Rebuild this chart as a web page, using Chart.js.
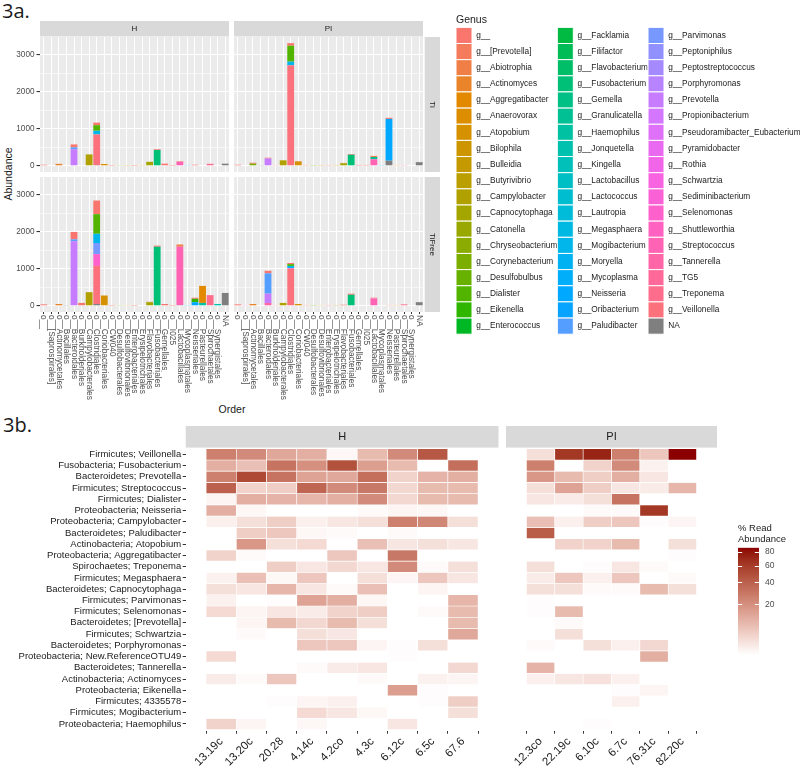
<!DOCTYPE html>
<html>
<head>
<meta charset="utf-8">
<title>Figure 3</title>
<script src="https://cdn.jsdelivr.net/npm/chart.js@4.4.1/dist/chart.umd.min.js"></script>
<style>
  body { margin: 0; width: 800px; height: 771px; position: relative; overflow: hidden; background: #fff;
         font-family: "Liberation Sans", Arial, sans-serif; }
  canvas { position: absolute; }
  .txt { position: absolute; white-space: nowrap; color: #1a1a1a; }
  .fig { font-family: "Open Sans", sans-serif; font-size: 20px; line-height: 20px; }
</style>
</head>
<body>
<div class="txt fig" style="left:2px;top:1px">3a.</div>
<div class="txt fig" style="left:3px;top:415px">3b.</div>
<div class="txt" style="left:232px;top:403px;font-size:10.5px;line-height:12px;transform:translateX(-50%)">Order</div>
<div class="txt" style="left:8px;top:174px;font-size:10.5px;line-height:12px;transform:translate(-50%,-50%) rotate(-90deg)">Abundance</div>

<canvas id="barHTi" width="229" height="151" style="left:0;top:21px"></canvas>
<canvas id="barPITi" width="206" height="151" style="left:234px;top:21px"></canvas>
<canvas id="barHTiFree" width="229" height="226" style="left:0;top:177px"></canvas>
<canvas id="barPITiFree" width="206" height="226" style="left:234px;top:177px"></canvas>
<canvas id="genusLegend" width="344" height="328" style="left:456px;top:14px"></canvas>
<canvas id="heatH" width="499" height="345" style="left:0;top:426px"></canvas>
<canvas id="heatPI" width="211" height="345" style="left:506px;top:426px"></canvas>
<canvas id="heatScale" width="62" height="137" style="left:738px;top:520px"></canvas>

<script>
// ---------- 3a data ----------
const orders = ["o__", "o__[Saprospirales]", "o__Actinomycetales", "o__Bacillales", "o__Bacteroidales",
  "o__Burkholderiales", "o__Campylobacterales", "o__Clostridiales", "o__Coriobacteriales", "o__CW040",
  "o__Desulfobacterales", "o__Desulfovibrionales", "o__Enterobacteriales", "o__Erysipelotrichales", "o__Flavobacteriales",
  "o__Fusobacteriales", "o__Gemellales", "o__I025", "o__Lactobacillales", "o__Mycoplasmatales",
  "o__Neisseriales", "o__Pasteurellales", "o__Spirochaetales", "o__Synergistales", "NA"];

const genera = ["g__", "g__[Prevotella]", "g__Abiotrophia", "g__Actinomyces", "g__Aggregatibacter",
  "g__Anaerovorax", "g__Atopobium", "g__Bilophila", "g__Bulleidia", "g__Butyrivibrio",
  "g__Campylobacter", "g__Capnocytophaga", "g__Catonella", "g__Chryseobacterium", "g__Corynebacterium",
  "g__Desulfobulbus", "g__Dialister", "g__Eikenella", "g__Enterococcus",
  "g__Facklamia", "g__Filifactor", "g__Flavobacterium", "g__Fusobacterium", "g__Gemella",
  "g__Granulicatella", "g__Haemophilus", "g__Jonquetella", "g__Kingella", "g__Lactobacillus",
  "g__Lactococcus", "g__Lautropia", "g__Megasphaera", "g__Mogibacterium", "g__Moryella",
  "g__Mycoplasma", "g__Neisseria", "g__Oribacterium", "g__Paludibacter",
  "g__Parvimonas", "g__Peptoniphilus", "g__Peptostreptococcus", "g__Porphyromonas", "g__Prevotella",
  "g__Propionibacterium", "g__Pseudoramibacter_Eubacterium", "g__Pyramidobacter", "g__Rothia", "g__Schwartzia",
  "g__Sediminibacterium", "g__Selenomonas", "g__Shuttleworthia", "g__Streptococcus", "g__Tannerella",
  "g__TG5", "g__Treponema", "g__Veillonella", "NA"];

const abundanceTicks = [0, 500, 1000, 1500, 2000, 2500, 3000];

// abundance per genus, one value per order (columns follow `orders`)
const hTi = {
  "NA":                 [0,0,0,15,0, 0,0,20,0,0, 0,0,0,0,0, 0,0,0,0,0, 0,0,0,0,60],
  "g__Veillonella":     [0,0,0,0,0, 0,0,830,0,0, 0,0,0,0,0, 0,0,0,0,0, 0,0,0,0,0],
  "g__Treponema":       [0,0,0,0,0, 0,0,0,0,0, 0,0,0,0,0, 0,0,0,0,0, 0,0,55,0,0],
  "g__Streptococcus":   [0,0,0,0,0, 0,0,0,0,0, 0,0,0,0,0, 0,0,0,110,0, 0,0,0,0,0],
  "g__Sediminibacterium":[0,15,0,0,0, 0,0,0,0,0, 0,0,0,0,0, 0,0,0,0,0, 0,0,0,0,0],
  "g__Prevotella":      [0,0,0,0,450, 0,0,0,0,0, 0,0,0,0,0, 0,0,0,0,0, 0,0,0,0,0],
  "g__Paludibacter":    [0,0,0,0,50, 0,0,0,0,0, 0,0,0,0,0, 0,0,0,0,0, 0,0,0,0,0],
  "g__Mycoplasma":      [0,0,0,0,0, 0,0,0,0,0, 0,0,0,0,0, 0,0,0,0,10, 0,0,0,0,0],
  "g__Mogibacterium":   [0,0,0,0,0, 0,0,100,0,0, 0,0,0,0,0, 0,0,0,0,0, 0,0,0,0,0],
  "g__Jonquetella":     [0,0,0,0,0, 0,0,0,0,0, 0,0,0,0,0, 0,0,0,0,0, 0,0,0,15,0],
  "g__Fusobacterium":   [0,0,0,0,0, 0,0,0,0,0, 0,0,0,0,0, 430,0,0,0,0, 0,0,0,0,0],
  "g__Dialister":       [0,0,0,0,0, 0,0,150,0,0, 0,0,0,0,0, 0,0,0,0,0, 0,0,0,0,0],
  "g__Desulfobulbus":   [0,0,0,0,0, 0,0,0,0,0, 10,0,0,0,0, 0,0,0,0,0, 0,0,0,0,0],
  "g__Capnocytophaga":  [0,0,0,0,0, 0,0,0,0,0, 0,0,0,0,110, 0,0,0,0,0, 0,0,0,0,0],
  "g__Campylobacter":   [0,0,0,0,0, 0,310,0,0,0, 0,0,0,0,0, 0,0,0,0,0, 0,0,0,0,0],
  "g__Bulleidia":       [0,0,0,0,0, 0,0,0,0,0, 0,0,0,10,0, 0,0,0,0,0, 0,0,0,0,0],
  "g__Bilophila":       [0,0,0,0,0, 0,0,0,0,0, 0,8,0,0,0, 0,0,0,0,0, 0,0,0,0,0],
  "g__Atopobium":       [0,0,0,0,0, 0,0,0,50,0, 0,0,0,0,0, 0,0,0,0,0, 0,0,0,0,0],
  "g__Aggregatibacter": [0,0,0,0,0, 0,0,0,0,0, 0,0,0,0,0, 0,0,0,0,0, 0,15,0,0,0],
  "g__Actinomyces":     [0,0,55,0,0, 0,0,0,0,0, 0,0,0,0,0, 0,0,0,0,0, 0,0,0,0,0],
  "g__":                [30,0,0,0,80, 15,0,70,0,5, 0,0,5,0,0, 20,60,5,15,0, 30,0,0,0,0]
};

const piTi = {
  "NA":                 [0,0,0,20,0, 0,0,0,0,0, 0,0,0,0,0, 0,0,0,0,0, 140,0,0,0,100],
  "g__Veillonella":     [0,0,0,0,0, 0,0,2720,0,0, 0,0,0,0,0, 0,0,0,0,0, 0,0,0,0,0],
  "g__Treponema":       [0,0,0,0,0, 0,0,0,0,0, 0,0,0,0,0, 0,0,0,0,0, 0,0,20,0,0],
  "g__Streptococcus":   [0,0,0,0,0, 0,0,0,0,0, 0,0,0,0,0, 0,0,0,180,0, 0,0,0,0,0],
  "g__Sediminibacterium":[0,15,0,0,0, 0,0,0,0,0, 0,0,0,0,0, 0,0,0,0,0, 0,0,0,0,0],
  "g__Prevotella":      [0,0,0,0,200, 0,0,0,0,0, 0,0,0,0,0, 0,0,0,0,0, 0,0,0,0,0],
  "g__Neisseria":       [0,0,0,0,0, 0,0,0,0,0, 0,0,0,0,0, 0,0,0,0,0, 1130,0,0,0,0],
  "g__Mycoplasma":      [0,0,0,0,0, 0,0,0,0,0, 0,0,0,0,0, 0,0,0,0,10, 0,0,0,0,0],
  "g__Mogibacterium":   [0,0,0,0,0, 0,0,100,0,0, 0,0,0,0,0, 0,0,0,0,0, 0,0,0,0,0],
  "g__Jonquetella":     [0,0,0,0,0, 0,0,0,0,0, 0,0,0,0,0, 0,0,0,0,0, 0,0,0,15,0],
  "g__Granulicatella":  [0,0,0,0,0, 0,0,0,0,0, 0,0,0,0,0, 0,0,0,60,0, 0,0,0,0,0],
  "g__Fusobacterium":   [0,0,0,0,0, 0,0,0,0,0, 0,0,0,0,0, 300,0,0,0,0, 0,0,0,0,0],
  "g__Dialister":       [0,0,0,0,0, 0,0,430,0,0, 0,0,0,0,0, 0,0,0,0,0, 0,0,0,0,0],
  "g__Desulfobulbus":   [0,0,0,0,0, 0,0,0,0,0, 8,0,0,0,0, 0,0,0,0,0, 0,0,0,0,0],
  "g__Corynebacterium": [0,0,60,0,0, 0,0,0,0,0, 0,0,0,0,0, 0,0,0,0,0, 0,0,0,0,0],
  "g__Capnocytophaga":  [0,0,0,0,0, 0,0,0,0,0, 0,0,0,0,70, 0,0,0,0,0, 0,0,0,0,0],
  "g__Campylobacter":   [0,0,0,0,0, 0,150,0,0,0, 0,0,0,0,0, 0,0,0,0,0, 0,0,0,0,0],
  "g__Bulleidia":       [0,0,0,0,0, 0,0,0,0,0, 0,0,0,8,0, 0,0,0,0,0, 0,0,0,0,0],
  "g__Bilophila":       [0,0,0,0,0, 0,0,0,0,0, 0,8,0,0,0, 0,0,0,0,0, 0,0,0,0,0],
  "g__Atopobium":       [0,0,0,0,0, 0,0,0,120,0, 0,0,0,0,0, 0,0,0,0,0, 0,0,0,0,0],
  "g__Aggregatibacter": [0,0,0,0,0, 0,0,0,0,0, 0,0,0,0,0, 0,0,0,0,0, 0,20,0,0,0],
  "g__Abiotrophia":     [0,0,0,0,0, 0,0,0,0,0, 0,0,0,0,0, 0,0,0,30,0, 0,0,0,0,0],
  "g__":                [30,0,25,0,20, 10,0,70,10,8, 0,0,8,0,10, 20,25,25,0,0, 30,0,0,0,0]
};

const hTiFree = {
  "NA":                 [0,0,0,20,0, 0,0,50,0,0, 0,0,0,0,0, 0,0,0,20,0, 0,0,0,0,350],
  "g__Veillonella":     [0,0,0,0,0, 0,0,1030,0,0, 0,0,0,0,0, 0,0,0,0,0, 0,0,0,0,0],
  "g__Treponema":       [0,0,0,0,0, 0,0,0,0,0, 0,0,0,0,0, 0,0,0,0,0, 0,0,290,0,0],
  "g__Streptococcus":   [0,0,0,0,0, 0,0,0,0,0, 0,0,0,0,0, 0,0,0,1580,0, 0,0,0,0,0],
  "g__Selenomonas":     [0,0,0,0,0, 0,0,320,0,0, 0,0,0,0,0, 0,0,0,0,0, 0,0,0,0,0],
  "g__Sediminibacterium":[0,15,0,0,0, 0,0,0,0,0, 0,0,0,0,0, 0,0,0,0,0, 0,0,0,0,0],
  "g__Prevotella":      [0,0,0,0,1750, 0,0,0,0,0, 0,0,0,0,0, 0,0,0,0,0, 0,0,0,0,0],
  "g__Parvimonas":      [0,0,0,0,0, 0,0,300,0,0, 0,0,0,0,0, 0,0,0,0,0, 0,0,0,0,0],
  "g__Paludibacter":    [0,0,0,0,50, 0,0,0,0,0, 0,0,0,0,0, 0,0,0,0,0, 0,0,0,0,0],
  "g__Neisseria":       [0,0,0,0,0, 0,0,0,0,0, 0,0,0,0,0, 0,0,0,0,0, 100,0,0,0,0],
  "g__Mycoplasma":      [0,0,0,0,0, 0,0,0,0,0, 0,0,0,0,0, 0,0,0,0,10, 0,0,0,0,0],
  "g__Mogibacterium":   [0,0,0,0,0, 0,0,250,0,0, 0,0,0,0,0, 0,0,0,0,0, 0,0,0,0,0],
  "g__Jonquetella":     [0,0,0,0,0, 0,0,0,0,0, 0,0,0,0,0, 0,0,0,0,0, 0,0,0,50,0],
  "g__Haemophilus":     [0,0,0,0,0, 0,0,0,0,0, 0,0,0,0,0, 0,0,0,0,0, 0,80,0,0,0],
  "g__Fusobacterium":   [0,0,0,0,0, 0,0,0,0,0, 0,0,0,0,0, 1600,0,0,0,0, 0,0,0,0,0],
  "g__Eikenella":       [0,0,0,0,0, 0,0,0,0,0, 0,0,0,0,0, 0,0,0,0,0, 90,0,0,0,0],
  "g__Dialister":       [0,0,0,0,0, 0,0,530,0,0, 0,0,0,0,0, 0,0,0,0,0, 0,0,0,0,0],
  "g__Desulfobulbus":   [0,0,0,0,0, 0,0,0,0,0, 10,0,0,0,0, 0,0,0,0,0, 0,0,0,0,0],
  "g__Capnocytophaga":  [0,0,0,0,0, 0,0,0,0,0, 0,0,0,0,100, 0,0,0,0,0, 0,0,0,0,0],
  "g__Campylobacter":   [0,0,0,0,0, 0,370,0,0,0, 0,0,0,0,0, 0,0,0,0,0, 0,0,0,0,0],
  "g__Bulleidia":       [0,0,0,0,0, 0,0,0,0,0, 0,0,0,15,0, 0,0,0,0,0, 0,0,0,0,0],
  "g__Bilophila":       [0,0,0,0,0, 0,0,0,0,0, 0,10,0,0,0, 0,0,0,0,0, 0,0,0,0,0],
  "g__Atopobium":       [0,0,0,0,0, 0,0,0,280,0, 0,0,0,0,0, 0,0,0,0,0, 0,0,0,0,0],
  "g__Aggregatibacter": [0,0,0,0,0, 0,0,0,0,0, 0,0,0,0,0, 0,0,0,0,0, 0,460,0,0,0],
  "g__Actinomyces":     [0,0,50,0,0, 0,0,0,0,0, 0,0,0,0,0, 0,0,0,0,0, 0,0,0,0,0],
  "g__Abiotrophia":     [0,0,0,0,0, 0,0,0,0,0, 0,0,0,0,0, 0,0,0,60,0, 0,0,0,0,0],
  "g__":                [40,0,0,0,200, 80,0,370,0,5, 0,0,5,0,10, 30,50,5,0,0, 30,0,0,0,0]
};

const piTiFree = {
  "NA":                 [0,0,0,15,0, 0,0,0,0,0, 0,0,0,0,0, 0,0,0,0,0, 0,0,0,0,100],
  "g__Veillonella":     [0,0,0,0,0, 0,0,1000,0,0, 0,0,0,0,0, 0,0,0,0,0, 0,0,0,0,0],
  "g__Treponema":       [0,0,0,0,0, 0,0,0,0,0, 0,0,0,0,0, 0,0,0,0,0, 0,0,40,0,0],
  "g__Tannerella":      [0,0,0,0,80, 0,0,0,0,0, 0,0,0,0,0, 0,0,0,0,0, 0,0,0,0,0],
  "g__Streptococcus":   [0,0,0,0,0, 0,0,0,0,0, 0,0,0,0,0, 0,0,0,200,0, 0,0,0,0,0],
  "g__Selenomonas":     [0,0,0,0,0, 0,0,20,0,0, 0,0,0,0,0, 0,0,0,0,0, 0,0,0,0,0],
  "g__Sediminibacterium":[0,10,0,0,0, 0,0,0,0,0, 0,0,0,0,0, 0,0,0,0,0, 0,0,0,0,0],
  "g__Prevotella":      [0,0,0,0,250, 0,0,0,0,0, 0,0,0,0,0, 0,0,0,0,0, 0,0,0,0,0],
  "g__Paludibacter":    [0,0,0,0,550, 0,0,0,0,0, 0,0,0,0,0, 0,0,0,0,0, 0,0,0,0,0],
  "g__Mycoplasma":      [0,0,0,0,0, 0,0,0,0,0, 0,0,0,0,0, 0,0,0,0,15, 0,0,0,0,0],
  "g__Mogibacterium":   [0,0,0,0,0, 0,0,60,0,0, 0,0,0,0,0, 0,0,0,0,0, 0,0,0,0,0],
  "g__Jonquetella":     [0,0,0,0,0, 0,0,0,0,0, 0,0,0,0,0, 0,0,0,0,0, 0,0,0,15,0],
  "g__Fusobacterium":   [0,0,0,0,0, 0,0,0,0,0, 0,0,0,0,0, 300,0,0,0,0, 0,0,0,0,0],
  "g__Dialister":       [0,0,0,0,0, 0,0,50,0,0, 0,0,0,0,0, 0,0,0,0,0, 0,0,0,0,0],
  "g__Desulfobulbus":   [0,0,0,0,0, 0,0,0,0,0, 8,0,0,0,0, 0,0,0,0,0, 0,0,0,0,0],
  "g__Campylobacter":   [0,0,0,0,0, 0,80,0,0,0, 0,0,0,0,0, 0,0,0,0,0, 0,0,0,0,0],
  "g__Bulleidia":       [0,0,0,0,0, 0,0,0,0,0, 0,0,0,8,0, 0,0,0,0,0, 0,0,0,0,0],
  "g__Bilophila":       [0,0,0,0,0, 0,0,0,0,0, 0,10,0,0,0, 0,0,0,0,0, 0,0,0,0,0],
  "g__Atopobium":       [0,0,0,0,0, 0,0,0,50,0, 0,0,0,0,0, 0,0,0,0,0, 0,0,0,0,0],
  "g__Aggregatibacter": [0,0,0,0,0, 0,0,0,0,0, 0,0,0,0,0, 0,0,0,0,0, 0,10,0,0,0],
  "g__Actinomyces":     [0,0,50,0,0, 0,0,0,0,0, 0,0,0,0,0, 0,0,0,0,0, 0,0,0,0,0],
  "g__":                [40,0,0,0,70, 10,0,30,0,8, 0,0,8,0,30, 30,15,15,20,0, 10,0,0,0,0]
};

// ---------- 3b data ----------
const samplesH = ["13.19c", "13.20c", "20.28", "4.14c", "4.2co", "4.3c", "6.12c", "6.5c", "67.6"];
const samplesPI = ["12.3co", "22.19c", "6.10c", "6.7c", "76.31c", "82.20c"];
const taxa = ["Firmicutes; Veillonella", "Fusobacteria; Fusobacterium", "Bacteroidetes; Prevotella",
  "Firmicutes; Streptococcus", "Firmicutes; Dialister", "Proteobacteria; Neisseria",
  "Proteobacteria; Campylobacter", "Bacteroidetes; Paludibacter", "Actinobacteria; Atopobium",
  "Proteobacteria; Aggregatibacter", "Spirochaetes; Treponema", "Firmicutes; Megasphaera",
  "Bacteroidetes; Capnocytophaga", "Firmicutes; Parvimonas", "Firmicutes; Selenomonas",
  "Bacteroidetes; [Prevotella]", "Firmicutes; Schwartzia", "Bacteroidetes; Porphyromonas",
  "Proteobacteria; New.ReferenceOTU49", "Bacteroidetes; Tannerella", "Actinobacteria; Actinomyces",
  "Proteobacteria; Eikenella", "Firmicutes; 4335578", "Firmicutes; Mogibacterium",
  "Proteobacteria; Haemophilus"];
// % read abundance: H samples (9) then PI samples (6)
const readPct = [
  [26, 21.5, 12.4, 10.5, 0.22, 7.75, 21.5, 44.6, 0,      1.94, 62.2, 72.9, 26, 5.38, 86],
  [10.5, 6.75, 31, 19.8, 48.4, 15.2, 7.75, 0, 33.1,     26, 0, 3.44, 21.5, 0.42, 0],
  [26, 52.4, 31, 13.8, 12.4, 33.1, 3.44, 9.38, 10.5,    17.4, 7.75, 4.17, 10.5, 1.24, 0],
  [39.8, 3.44, 4.17, 37.5, 21.5, 29, 2.79, 7.75, 7.75,  1.94, 13.8, 4.17, 1.24, 0.86, 8.82],
  [0.31, 10.5, 9.38, 8.82, 10.5, 21.5, 2.79, 7.75, 7.75, 1.24, 0.86, 1.94, 31, 0, 0],
  [10.5, 0.22, 0, 0, 0, 0.14, 0.31, 0.22, 0,            0, 0, 0.14, 0.14, 62.2, 0],
  [0.55, 1.94, 4.17, 0.55, 1.24, 1.94, 26, 23.3, 1.94,  6.75, 0.55, 4.17, 5.38, 0.08, 0.31],
  [0, 4.17, 5.38, 0.22, 0.14, 0, 0.14, 0, 0,            42.2, 0, 0, 0, 0, 0],
  [0, 17.4, 1.94, 2.49, 0, 6.75, 1.24, 1.94, 1.24,      0, 3.44, 3.44, 7.75, 0, 1.94],
  [3.44, 0.14, 0, 0, 5.38, 0, 29, 0, 0,                 0, 0, 0, 0, 0, 0.08],
  [0, 0, 4.17, 1.24, 2.79, 1.24, 21.5, 0.14, 1.94,      1.94, 0, 0.08, 1.24, 0.14, 0],
  [0.42, 6.75, 0.22, 5.38, 0, 1.94, 0.31, 5.38, 1.24,   0.86, 5.38, 0.55, 5.38, 0, 0.14],
  [1.94, 1.24, 8.82, 1.24, 0.14, 6.75, 0, 0.31, 0,      1.94, 1.94, 0.14, 0.14, 7.75, 1.94],
  [0.42, 0, 0.08, 13.8, 10.5, 0.22, 0, 0, 8.82,         0.08, 0, 0, 0, 0, 0],
  [2.49, 0.31, 1.24, 0.86, 3.44, 4.17, 0, 0.14, 7.75,   0.08, 7.75, 0, 0, 0, 0],
  [0, 0.31, 7.75, 2.79, 7.75, 1.94, 0, 0, 7.75,         0, 0.14, 0, 0, 0, 0],
  [0, 0.14, 0, 1.94, 1.24, 0, 0, 0, 12.4,               0, 1.94, 0, 0, 0, 0],
  [0, 0, 0, 5.38, 5.38, 0.31, 0.08, 1.94, 0,            0.14, 0, 1.94, 0.55, 2.79, 0],
  [2.49, 0, 0, 0, 0, 0, 0.08, 0, 0,                     0, 0, 0, 0, 10.5, 0],
  [0, 0, 0, 0.14, 0.86, 1.24, 0, 0, 2.79,               9.38, 0, 0, 0, 0, 0],
  [0.86, 0.14, 5.38, 0, 0, 0.14, 0, 0.42, 0.31,         0.55, 1.24, 1.69, 0.55, 0, 0],
  [0, 0, 0, 0, 0, 0, 15.2, 0.08, 0,                     0, 0, 0, 0.08, 0.31, 0],
  [0, 0, 0.08, 0.31, 0.55, 0, 0, 0.08, 4.17,            0, 0, 0, 0.55, 0, 0],
  [0, 0, 0, 2.49, 1.24, 0.22, 0, 0, 1.94,               0, 0, 0, 0, 0, 0],
  [3.44, 0.31, 0, 0.22, 0, 0, 1.24, 0, 0,               0, 0, 0.08, 0, 0.03, 0]
];
const pctTicks = [20, 40, 60, 80];

// ---------- colours ----------
const F = '"Liberation Sans", Arial, Helvetica, sans-serif';
Chart.defaults.font.family = F;

function toHex(r, g, b) {
  return '#' + [r, g, b].map(c => Math.round(Math.min(255, Math.max(0, c * 255))).toString(16).padStart(2, '0')).join('');
}
// polar LUV, as R's hcl()
function hcl(h, c, l) {
  const WX = 95.047, WY = 100, WZ = 108.883;
  const hr = h * Math.PI / 180, U = c * Math.cos(hr), V = c * Math.sin(hr);
  const Y = WY * (l > 7.999592 ? Math.pow((l + 16) / 116, 3) : l / 903.3);
  const t = WX + WY + WZ, x = WX / t, y = WY / t;
  const uN = 2 * x / (6 * y - x + 1.5), vN = 4.5 * y / (6 * y - x + 1.5);
  const u = U / (13 * l) + uN, v = V / (13 * l) + vN;
  const X = 9 * Y * u / (4 * v), Z = -X / 3 - 5 * Y + 3 * Y / v;
  const gam = c => c > 0.00304 ? 1.055 * Math.pow(c, 1 / 2.4) - 0.055 : 12.92 * c;
  return toHex(gam((3.240479 * X - 1.537150 * Y - 0.498535 * Z) / WY),
               gam((-0.969256 * X + 1.875992 * Y + 0.041556 * Z) / WY),
               gam((0.055648 * X - 0.204043 * Y + 1.057311 * Z) / WY));
}
const genusColor = genera.map((g, i) => i < genera.length - 1 ? hcl(15 + 360 * i / (genera.length - 1), 100, 65) : '#7f7f7f');

function rgb2lab(hex) {
  const lin = [1, 3, 5].map(i => { const c = parseInt(hex.substr(i, 2), 16) / 255; return c <= 0.04045 ? c / 12.92 : Math.pow((c + 0.055) / 1.055, 2.4); });
  const [r, g, b] = lin;
  const X = (0.4124564 * r + 0.3575761 * g + 0.1804375 * b) / 0.95047;
  const Y = 0.2126729 * r + 0.7151522 * g + 0.0721750 * b;
  const Z = (0.0193339 * r + 0.1191920 * g + 0.9503041 * b) / 1.08883;
  const f = t => t > 0.008856 ? Math.cbrt(t) : 7.787 * t + 16 / 116;
  return [116 * f(Y) - 16, 500 * (f(X) - f(Y)), 200 * (f(Y) - f(Z))];
}
function lab2hex([L, a, b]) {
  const fy = (L + 16) / 116, fx = fy + a / 500, fz = fy - b / 200;
  const inv = t => t * t * t > 0.008856 ? t * t * t : (t - 16 / 116) / 7.787;
  const X = inv(fx) * 0.95047, Y = inv(fy), Z = inv(fz) * 1.08883;
  const gam = c => c <= 0.0031308 ? 12.92 * c : 1.055 * Math.pow(c, 1 / 2.4) - 0.055;
  return toHex(gam(3.2404542 * X - 1.5371385 * Y - 0.4985314 * Z),
               gam(-0.9692660 * X + 1.8760108 * Y + 0.0415560 * Z),
               gam(0.0556434 * X - 0.2040259 * Y + 1.0572252 * Z));
}
const labLow = rgb2lab('#ffffff'), labHigh = rgb2lab('#8b0000');
const mixLab = t => lab2hex(labLow.map((v, i) => v + (labHigh[i] - v) * t));
const allPct = readPct.flat();
const pctMax = Math.max(...allPct);
const pctMin = Math.min(...allPct.filter(v => v > 0));
function heatColor(v) {
  if (!(v > 0)) return '#ffffff';
  const t = (Math.sqrt(v) - Math.sqrt(pctMin)) / (Math.sqrt(pctMax) - Math.sqrt(pctMin));
  return mixLab(Math.min(1, Math.max(0, t)));
}

// ---------- facet strips / panel background ----------
const facetPlugin = {
  id: 'facet',
  beforeDraw(chart, args, o) {
    const a = chart.chartArea, ctx = chart.ctx;
    if (o.panel) {
      ctx.save();
      ctx.fillStyle = o.panel;
      ctx.fillRect(a.left, a.top, a.right - a.left, a.bottom - a.top);
      ctx.restore();
    }
  },
  afterDraw(chart, args, o) {
    const a = chart.chartArea, ctx = chart.ctx;
    ctx.save();
    ctx.font = o.font;
    ctx.textAlign = 'center';
    ctx.textBaseline = 'middle';
    if (o.top) {
      ctx.fillStyle = '#d9d9d9';
      ctx.fillRect(a.left, 0, a.right - a.left, a.top - o.gap);
      ctx.fillStyle = '#1a1a1a';
      ctx.fillText(o.top, (a.left + a.right) / 2, (a.top - o.gap) / 2 + 0.5);
    }
    if (o.right) {
      const x0 = a.right + o.gap2, w = chart.width - x0;
      ctx.fillStyle = '#d9d9d9';
      ctx.fillRect(x0, a.top, w, a.bottom - a.top);
      ctx.fillStyle = '#1a1a1a';
      ctx.save();
      ctx.translate(x0 + w / 2, (a.top + a.bottom) / 2);
      ctx.rotate(Math.PI / 2);
      ctx.fillText(o.right, 0, 0);
      ctx.restore();
    }
    if (o.xLabels) {
      const sx = chart.scales.x;
      ctx.font = o.xFont;
      ctx.fillStyle = '#4d4d4d';
      ctx.textAlign = 'left';
      chart.data.labels.forEach((lab, i) => {
        ctx.save();
        ctx.translate(sx.getPixelForTick(i), a.bottom + o.xPad);
        ctx.rotate(Math.PI / 2);
        ctx.fillText(lab, 0, 0);
        ctx.restore();
      });
    }
    ctx.restore();
  }
};

// ---------- 3a: faceted stacked bars ----------
function barPanel(id, series, f) {
  const datasets = [];
  for (let g = genera.length - 1; g >= 0; g--) {
    const vals = series[genera[g]];
    if (vals) datasets.push({label: genera[g], data: vals, backgroundColor: genusColor[g], borderWidth: 0});
  }
  const major = c => c.tick && c.tick.value % 1000 === 0;
  new Chart(document.getElementById(id), {
    type: 'bar',
    data: {labels: orders, datasets},
    options: {
      responsive: false, animation: false, events: [],
      datasets: {bar: {barPercentage: 0.9, categoryPercentage: 1}},
      layout: {padding: {top: f.top ? 16 : 0, right: f.right ? 17 : 0, left: 0, bottom: 0}},
      plugins: {
        legend: {display: false}, tooltip: {enabled: false},
        facet: {panel: '#ebebeb', top: f.top, right: f.right, gap: 0.5, gap2: 1.7,
                font: '8px ' + F, xLabels: f.xLabels, xFont: '8.3px ' + F, xPad: 3}
      },
      scales: {
        x: {
          stacked: true, offset: true,
          grid: {offset: false, color: '#ffffff', lineWidth: 1, drawTicks: !!f.xLabels, tickLength: 2, tickColor: '#333333'},
          border: {display: false},
          ticks: {display: false},
          afterFit: s => { s.height = f.xLabels ? 91 : 0; s.paddingLeft = 0; s.paddingRight = 0; }
        },
        y: {
          stacked: true, min: -166, max: 3486,
          afterBuildTicks: s => { s.ticks = abundanceTicks.map(v => ({value: v})); },
          grid: {color: '#ffffff', lineWidth: c => major(c) ? 1.1 : 0.55, drawTicks: !!f.yLabels, tickLength: 3.5,
                 tickColor: c => major(c) ? '#333333' : 'rgba(0,0,0,0)'},
          border: {display: false},
          ticks: {display: !!f.yLabels, color: '#4d4d4d', font: {size: 8.2}, padding: 2,
                  callback: v => v % 1000 === 0 ? v : ''},
          afterFit: s => { s.width = f.yLabels ? 40 : 0; s.paddingTop = 0; s.paddingBottom = 0; }
        }
      }
    },
    plugins: [facetPlugin]
  });
}

barPanel('barHTi', hTi, {top: 'H', yLabels: true});
barPanel('barPITi', piTi, {top: 'PI', right: 'Ti'});
barPanel('barHTiFree', hTiFree, {yLabels: true, xLabels: true});
barPanel('barPITiFree', piTiFree, {right: 'TiFree', xLabels: true});

// genus legend
new Chart(document.getElementById('genusLegend'), {
  type: 'bar',
  data: {labels: [], datasets: genera.map((g, i) => ({label: g, data: [], backgroundColor: genusColor[i], borderColor: '#ffffff', borderWidth: 1}))},
  options: {
    responsive: false, animation: false, events: [],
    scales: {x: {display: false}, y: {display: false}},
    plugins: {
      tooltip: {enabled: false},
      legend: {
        position: 'left', align: 'start', maxWidth: 344,
        title: {display: true, text: 'Genus', position: 'start', color: '#1a1a1a', font: {size: 10.5}, padding: {top: 0.75, bottom: 0}},
        labels: {boxWidth: 16, boxHeight: 16.15, padding: 0, color: '#1a1a1a', font: {size: 8.3}}
      }
    }
  }
});

// ---------- 3b: heatmap ----------
function heatPanel(id, samples, col0, showY, strip) {
  const datasets = taxa.map((name, r) => ({
    label: name,
    data: samples.map((s, c) => ({x: c + 1, y: 1})),
    backgroundColor: samples.map((s, c) => heatColor(readPct[r][col0 + c])),
    borderColor: '#ffffff', borderWidth: 0.65, borderSkipped: false,
    barPercentage: 1, categoryPercentage: 1
  }));
  new Chart(document.getElementById(id), {
    type: 'bar',
    data: {datasets},
    options: {
      responsive: false, animation: false, events: [],
      layout: {padding: {top: 21.6, right: showY ? 0.5 : 0, left: 0, bottom: 0}},
      plugins: {legend: {display: false}, tooltip: {enabled: false}, facet: {top: strip, gap: 0, font: '11px ' + F}},
      scales: {
        x: {
          type: 'linear', stacked: true, min: 0.4, max: samples.length + 0.6,
          afterBuildTicks: s => { s.ticks = samples.map((n, i) => ({value: i + 1})); },
          ticks: {autoSkip: false, minRotation: 45, maxRotation: 45, color: '#1a1a1a', font: {size: 11.5}, padding: 1,
                  callback: (v, i) => samples[i]},
          grid: {drawOnChartArea: false, tickLength: 3, tickColor: '#333333'},
          border: {display: false},
          afterFit: s => { s.height = 40.3; s.paddingLeft = 0; s.paddingRight = 0; }
        },
        y: {
          type: 'linear', stacked: true, reverse: true, min: -0.1, max: taxa.length + 0.1, display: showY,
          afterBuildTicks: s => { s.ticks = taxa.map((n, i) => ({value: i + 0.5})); },
          ticks: {autoSkip: false, color: '#1a1a1a', font: {size: 9.5}, padding: 1.5, callback: (v, i) => taxa[i]},
          grid: {drawOnChartArea: false, tickLength: 3, tickColor: '#333333'},
          border: {display: false},
          afterFit: s => { s.width = showY ? 185.7 : 0; s.paddingTop = 0; s.paddingBottom = 0; }
        }
      }
    },
    plugins: [facetPlugin]
  });
}
heatPanel('heatH', samplesH, 0, true, 'H');
heatPanel('heatPI', samplesPI, samplesH.length, false, 'PI');

// colour bar
const colorbarTicks = {
  id: 'colorbarTicks',
  afterDatasetsDraw(chart) {
    const a = chart.chartArea, ctx = chart.ctx, ys = chart.scales.y, w = (a.right - a.left) / 5;
    ctx.save();
    ctx.strokeStyle = '#ffffff';
    ctx.lineWidth = 1;
    pctTicks.forEach(v => {
      const y = Math.round(ys.getPixelForValue(Math.sqrt(v))) + 0.5;
      ctx.beginPath();
      ctx.moveTo(a.left, y); ctx.lineTo(a.left + w, y);
      ctx.moveTo(a.right - w, y); ctx.lineTo(a.right, y);
      ctx.stroke();
    });
    ctx.restore();
  }
};
new Chart(document.getElementById('heatScale'), {
  type: 'bar',
  data: {labels: [''], datasets: [{
    data: [[Math.sqrt(pctMin), Math.sqrt(pctMax)]],
    backgroundColor: c => {
      const ch = c.chart;
      if (!ch.chartArea) return '#ffffff';
      const ys = ch.scales.y;
      const g = ch.ctx.createLinearGradient(0, ys.getPixelForValue(Math.sqrt(pctMin)), 0, ys.getPixelForValue(Math.sqrt(pctMax)));
      for (let i = 0; i <= 24; i++) g.addColorStop(i / 24, mixLab(i / 24));
      return g;
    },
    borderWidth: 0, barPercentage: 1, categoryPercentage: 1
  }]},
  options: {
    responsive: false, animation: false, events: [],
    layout: {padding: 0},
    plugins: {
      legend: {display: false}, tooltip: {enabled: false},
      title: {display: true, text: ['% Read', 'Abundance'], align: 'start', color: '#1a1a1a',
              font: {size: 9.5, lineHeight: 1.12, weight: 'normal'}, padding: {top: 3.5, bottom: 2.9}}
    },
    scales: {
      x: {display: false},
      y: {
        position: 'right', min: 0, max: Math.sqrt(pctMax),
        afterBuildTicks: s => { s.ticks = pctTicks.map(v => ({value: Math.sqrt(v)})); },
        ticks: {padding: 6, color: '#4d4d4d', font: {size: 8.5}, callback: (v, i) => pctTicks[i]},
        grid: {display: false, drawTicks: false},
        border: {display: false},
        afterFit: s => { s.width = 41; s.paddingTop = 0; s.paddingBottom = 0; }
      }
    }
  },
  plugins: [colorbarTicks]
});
</script>
</body>
</html>
